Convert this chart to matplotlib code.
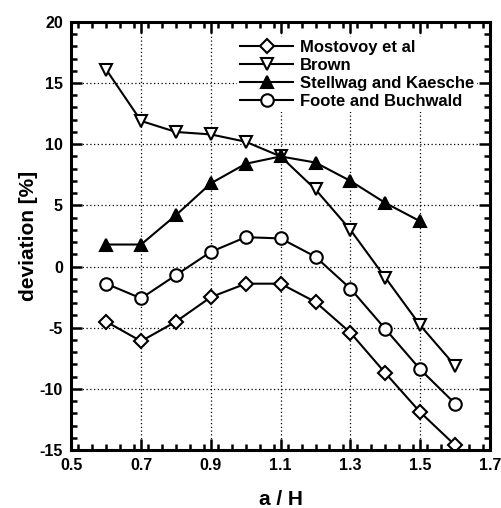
import matplotlib.pyplot as plt
from matplotlib.ticker import MultipleLocator

plt.rcParams['font.family'] = ['Liberation Sans', 'DejaVu Sans']
plt.rcParams['font.weight'] = 'bold'
plt.rcParams['axes.unicode_minus'] = False

# a/H values
x_full = [0.6, 0.7, 0.8, 0.9, 1.0, 1.1, 1.2, 1.3, 1.4, 1.5, 1.6]
x_stell = [0.6, 0.7, 0.8, 0.9, 1.0, 1.1, 1.2, 1.3, 1.4, 1.5]

# deviation [%]
mostovoy = [-4.5, -6.1, -4.5, -2.5, -1.4, -1.4, -2.9, -5.4, -8.7, -11.9, -14.6]
brown = [16.1, 11.9, 11.0, 10.8, 10.2, 9.0, 6.3, 3.0, -0.9, -4.8, -8.1]
stellwag = [1.8, 1.8, 4.2, 6.8, 8.4, 9.0, 8.5, 7.0, 5.2, 3.7]
foote = [-1.4, -2.6, -0.7, 1.2, 2.4, 2.3, 0.8, -1.8, -5.1, -8.4, -11.2]

xticks = [0.5, 0.7, 0.9, 1.1, 1.3, 1.5, 1.7]

fig = plt.figure(figsize=(5.02, 5.08), dpi=100)
ax = fig.add_axes([0.142, 0.114, 0.834, 0.843])

ms = 9
ax.plot(x_full, mostovoy, '-', color='black', lw=1.5, marker='D', ms=7,
        mfc='white', mec='black', mew=1.5, label='Mostovoy et al')
ax.plot(x_full, brown, '-', color='black', lw=1.5, marker='v', ms=ms,
        mfc='white', mec='black', mew=1.5, label='Brown')
ax.plot(x_stell, stellwag, '-', color='black', lw=1.5, marker='^', ms=ms,
        mfc='black', mec='black', mew=1.5, label='Stellwag and Kaesche')
ax.plot(x_full, foote, '-', color='black', lw=1.5, marker='o', ms=ms,
        mfc='white', mec='black', mew=1.5, label='Foote and Buchwald')

ax.set_xlim(0.5, 1.7)
ax.set_ylim(-15, 20)
ax.set_xticks(xticks)
ax.set_xticklabels([f'{v:.1f}' for v in xticks])
ax.xaxis.set_minor_locator(MultipleLocator(0.04))
ax.yaxis.set_major_locator(MultipleLocator(5))
ax.yaxis.set_minor_locator(MultipleLocator(1))

ax.grid(True, which='major', linestyle=(0, (1, 2)), color='black', lw=0.9)
ax.tick_params(which='both', direction='in', top=True, right=True,
               labelsize=11.5, width=1.8)
ax.tick_params(which='major', length=8, pad=6)
ax.tick_params(which='minor', length=4)
for s in ax.spines.values():
    s.set_linewidth(2.2)

ax.set_xlabel('a / H', fontsize=15, fontweight='bold', labelpad=12)
ax.set_ylabel('deviation [%]', fontsize=15, fontweight='bold', labelpad=1)

leg = ax.legend(loc='upper right', bbox_to_anchor=(0.99, 0.985), frameon=True,
                fontsize=12, handlelength=3.2, labelspacing=0.18,
                handletextpad=0.4, borderpad=0.2, fancybox=False)
leg.get_frame().set_edgecolor('none')
leg.get_frame().set_facecolor('white')
leg.get_frame().set_alpha(1)
for t in leg.get_texts():
    t.set_fontweight('bold')

fig.savefig('out.png', dpi=100)
